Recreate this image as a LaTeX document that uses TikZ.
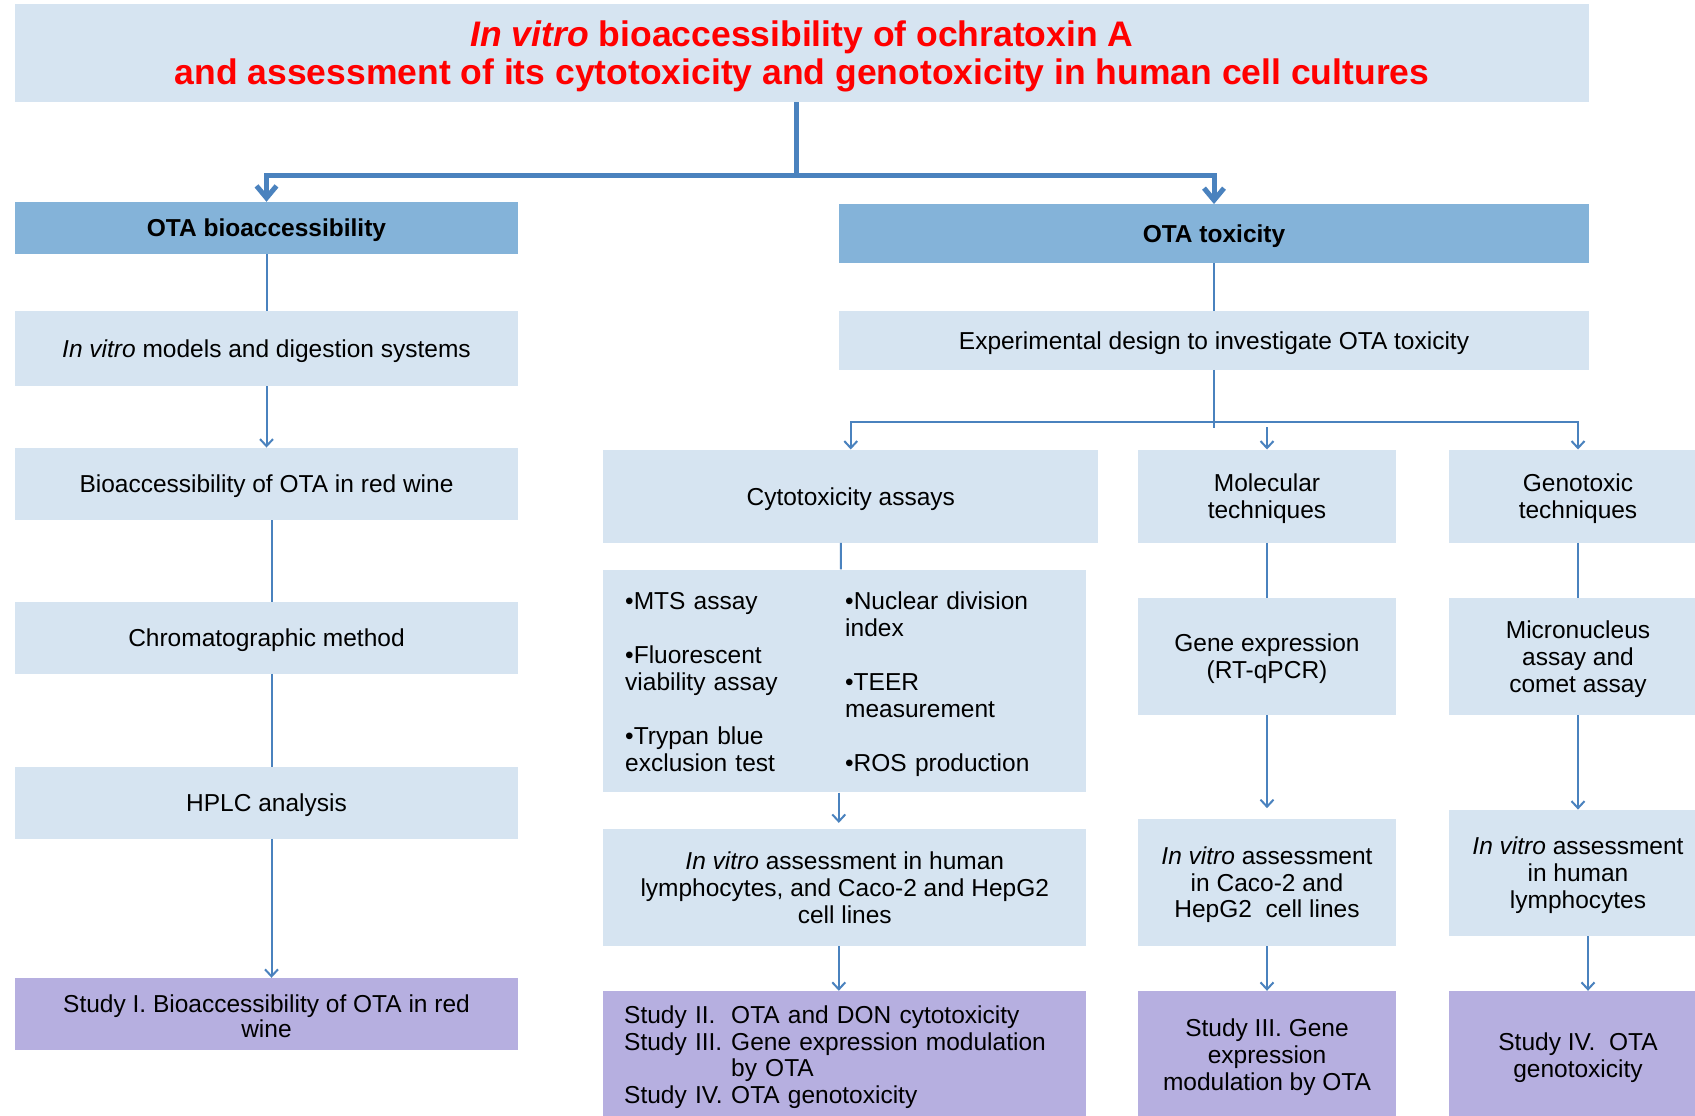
\documentclass[tikz,border=0pt]{standalone}
\usepackage{fontspec}
\setmainfont{Liberation Sans}
\usetikzlibrary{arrows.meta}

\definecolor{boxblue}{RGB}{214,228,241}
\definecolor{headblue}{RGB}{132,179,217}
\definecolor{studyviolet}{RGB}{182,175,224}
\definecolor{linkblue}{RGB}{74,130,190}

\begin{document}
\begin{tikzpicture}[x=1pt,y=-1pt,
	main node/.style={rectangle,fill=boxblue,inner sep=0pt,align=center,
		text depth=0pt,font=\fontsize{24.5}{27}\selectfont},
	head node/.style={main node,fill=headblue,
		font=\fontsize{24.5}{27}\selectfont\bfseries},
	study node/.style={main node,fill=studyviolet},
	link/.style={draw=linkblue,line width=2pt},
	flow/.style={link,-{Straight Barb[length=7pt,width=13pt]}},
	trunk/.style={draw=linkblue,line width=5pt},
	trunk flow/.style={trunk,-{Straight Barb[length=12pt,width=20pt]}}]
	
	\path[use as bounding box,fill=white] (0,0) rectangle (1695,1116);
	
	\node[main node,minimum width=1574pt,minimum height=98pt,text=red,
		font=\fontsize{35.5}{38}\selectfont\bfseries] (title) at (802,53)
		{\textit{In vitro} bioaccessibility of ochratoxin A\\and assessment of its cytotoxicity and genotoxicity in human cell cultures};
	
	% bioaccessibility branch
	\node[head node,minimum width=503pt,minimum height=52pt] (bio) at (266.5,228) {OTA bioaccessibility};
	\node[main node,minimum width=503pt,minimum height=75pt] (models) at (266.5,348.5) {\textit{In vitro} models and digestion systems};
	\node[main node,minimum width=503pt,minimum height=72.5pt] (wine) at (266.5,484) {Bioaccessibility of OTA in red wine};
	\node[main node,minimum width=503pt,minimum height=71.5pt] (chrom) at (266.5,638) {Chromatographic method};
	\node[main node,minimum width=503pt,minimum height=71.5pt] (hplc) at (266.5,803) {HPLC analysis};
	\node[study node,minimum width=503pt,minimum height=72pt,
		font=\fontsize{24.5}{25}\selectfont] (study1) at (266.5,1014)
		{\rule{0pt}{22pt}Study I. Bioaccessibility of OTA in red\\wine};
	
	% toxicity branch
	\node[head node,minimum width=750pt,minimum height=58.5pt] (tox) at (1214,233.5) {OTA toxicity};
	\node[main node,minimum width=750pt,minimum height=58.5pt] (design) at (1214,340.5) {Experimental design to investigate OTA toxicity};
	
	\node[main node,minimum width=495pt,minimum height=93pt] (cyto) at (850.75,496.2) {Cytotoxicity assays};
	\node[main node,minimum width=257.3pt,minimum height=93pt] (mol) at (1267,496.2) {Molecular\\techniques};
	\node[main node,minimum width=259pt,minimum height=93pt] (geno) at (1578,496.2) {Genotoxic\\techniques};
	
	\node[main node,minimum width=483.2pt,minimum height=222.7pt,text width=439.2pt,
		inner xsep=22pt,align=left,text depth={}] (assays) at (844.8,681)
		{\raisebox{0pt}[\dimexpr\height+8.6pt\relax][\depth]{\begin{tabular}{@{}p{220pt}@{}l@{}}
			\textbullet MTS assay & \textbullet Nuclear division\\
			& index\\
			\textbullet Fluorescent & \\
			viability assay & \textbullet TEER\\
			& measurement\\
			\textbullet Trypan blue & \\
			exclusion test & \textbullet ROS production
		\end{tabular}}};
	\node[main node,minimum width=257.3pt,minimum height=116.7pt] (gene) at (1267,656.2) {Gene expression\\(RT-qPCR)};
	\node[main node,minimum width=259pt,minimum height=116.7pt] (micro) at (1578,656.2) {Micronucleus\\assay and\\comet assay};
	
	\node[main node,minimum width=483.2pt,minimum height=116.8pt] (vitro1) at (844.8,887.5)
		{\textit{In vitro} assessment in human\\lymphocytes, and Caco-2 and HepG2\\cell lines};
	\node[main node,minimum width=257.3pt,minimum height=126.5pt,
		font=\fontsize{24.5}{26.5}\selectfont] (vitro2) at (1267,882.6)
		{\textit{In vitro} assessment\\in Caco-2 and\\HepG2\ \ cell lines};
	\node[main node,minimum width=259pt,minimum height=126.4pt] (vitro3) at (1578,873)
		{\textit{In vitro} assessment\\in human\\lymphocytes};
	
	\node[study node,minimum width=483.2pt,minimum height=128pt,text width=441.2pt,
		inner xsep=21pt,align=left,text depth={},
		font=\fontsize{24.5}{26.5}\selectfont] (study2) at (844.8,1055)
		{\raisebox{0pt}[\dimexpr\height+6.6pt\relax][\depth]{\begin{tabular}{@{}p{107pt}@{}l@{}}
			Study II. & OTA and DON cytotoxicity\\
			Study III. & Gene expression modulation\\
			& by OTA\\
			Study IV. & OTA genotoxicity
		\end{tabular}}};
	\node[study node,minimum width=257.3pt,minimum height=128pt] (study3) at (1267,1055)
		{Study III. Gene\\expression\\modulation by OTA};
	\node[study node,minimum width=259pt,minimum height=128pt] (study4) at (1578,1055)
		{Study IV.\ \ OTA\\genotoxicity};
	
	% connectors
	\coordinate (hub) at (796,175);
	\draw[trunk] ([xshift=-6pt]title.south) -- ([yshift=-2pt]hub);
	\draw[trunk flow] (hub) -| (bio.north);
	\draw[trunk flow] (hub) -| (tox.north);
	
	\draw[link] (bio) -- (models);
	\draw[flow] (models) -- (wine);
	\draw[link] ([xshift=5pt]wine.south) -- ([xshift=5pt]chrom.north);
	\draw[link] ([xshift=5pt]chrom.south) -- ([xshift=5pt]hplc.north);
	\draw[flow] ([xshift=5pt]hplc.south) -- ([xshift=5pt]study1.north);
	
	\coordinate (split) at (1214,422);
	\coordinate (molin) at (1267,427);
	\draw[link] (tox) -- (design);
	\draw[link] (design.south) -- ([yshift=-6pt]split);
	\draw[flow] (split) -| (cyto.north);
	\draw[flow] (split) -| (geno.north);
	\draw[flow] (molin) -- (mol.north);
	
	\draw[link] ([xshift=-10pt]cyto.south) -- ([xshift=-4pt]assays.north);
	\draw[flow,shorten >=6pt] ([xshift=-6pt]assays.south) -- ([xshift=-6pt]vitro1.north);
	\draw[flow] ([xshift=-6pt]vitro1.south) -- ([xshift=-6pt]study2.north);
	
	\draw[link] (mol) -- (gene);
	\draw[flow,shorten >=11pt] (gene) -- (vitro2);
	\draw[flow] (vitro2) -- (study3);
	
	\draw[link] (geno) -- (micro);
	\draw[flow] (micro) -- (vitro3);
	\draw[flow] ([xshift=10pt]vitro3.south) -- ([xshift=10pt]study4.north);
	
\end{tikzpicture}
\end{document}
